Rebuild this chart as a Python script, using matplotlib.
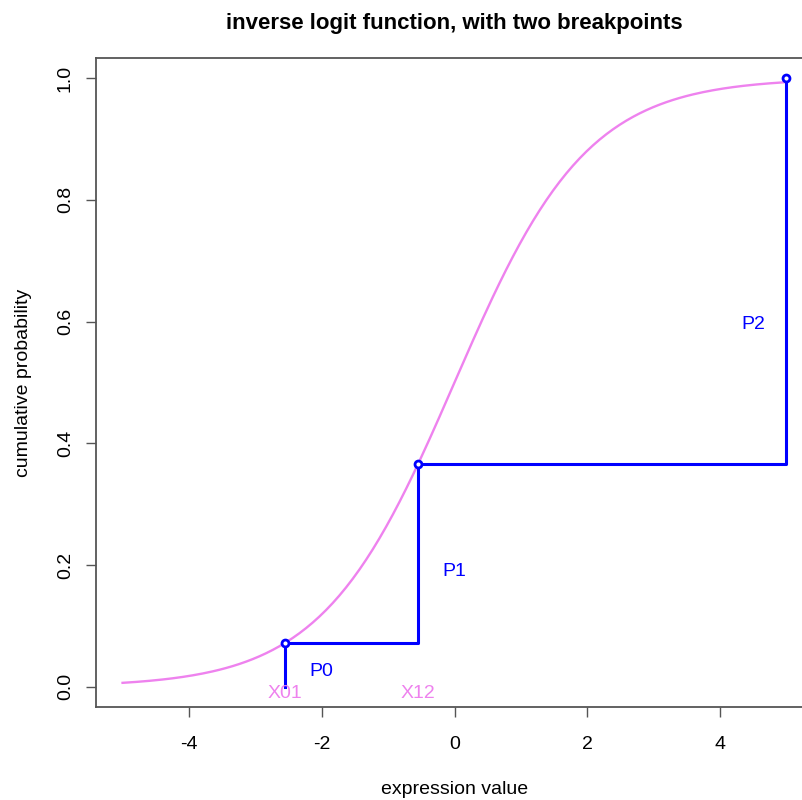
import numpy as np
import matplotlib
matplotlib.use("Agg")
import matplotlib.pyplot as plt

plt.rcParams['font.family'] = ['Liberation Sans', 'DejaVu Sans']

# breakpoints and their probabilities
breaks_x = [-2.55, -0.55, 5.0]
breaks_y = [0.0724, 0.3659, 1.0]
break_names = ["X01", "X12"]
prob_labels = ["P0", "P1", "P2"]
prob_label_x = [-2.0, 0.0, 4.5]
prob_label_y = [0.026, 0.19, 0.595]
x_range = [-5.0, 5.0]

xticks = [-4, -2, 0, 2, 4]
yticks = [0.0, 0.2, 0.4, 0.6, 0.8, 1.0]

# inverse logit curve, as named in the title
xs = np.linspace(x_range[0], x_range[1], 200)
ys = 1.0 / (1.0 + np.exp(-xs))

fig = plt.figure(figsize=(8.02, 8.0), dpi=100)
ax = fig.add_axes([96 / 802, 93 / 800, 717 / 802, 649 / 800])

ax.plot(xs, ys, color="violet", lw=1.7)

# step lines
px = [breaks_x[0], breaks_x[0], breaks_x[1], breaks_x[1], breaks_x[2], breaks_x[2]]
py = [0.0, breaks_y[0], breaks_y[0], breaks_y[1], breaks_y[1], breaks_y[2]]
ax.plot(px, py, color="blue", lw=2.2)
ax.plot(breaks_x, breaks_y, "o", mfc="white", mec="blue", mew=2, ms=5)

for name, bx in zip(break_names, breaks_x):
    ax.text(bx, -0.011, name, color="violet", ha="center", va="center", fontsize=14)
for lab, lx, ly in zip(prob_labels, prob_label_x, prob_label_y):
    ax.text(lx, ly, lab, color="blue", ha="center", va="center", fontsize=14)

ax.set_xlim(-5.4, 5.4)
ax.set_ylim(-0.033, 1.033)
ax.set_xticks(xticks)
ax.set_xticklabels([str(t) for t in xticks])
ax.set_yticks(yticks)
ax.set_yticklabels(["%.1f" % t for t in yticks], rotation=90, va="center")
ax.tick_params(labelsize=14, length=7, width=1, color="#555555")
ax.tick_params(axis="x", pad=14)
ax.tick_params(axis="y", pad=9)
for s in ax.spines.values():
    s.set_color("#555555")
    s.set_linewidth(1.3)

ax.set_xlabel("expression value", fontsize=14, labelpad=20)
ax.set_ylabel("cumulative probability", fontsize=14, labelpad=18)
ax.set_title("inverse logit function, with two breakpoints",
             fontsize=16, fontweight="bold", pad=21)

fig.savefig("out.png", dpi=100)
